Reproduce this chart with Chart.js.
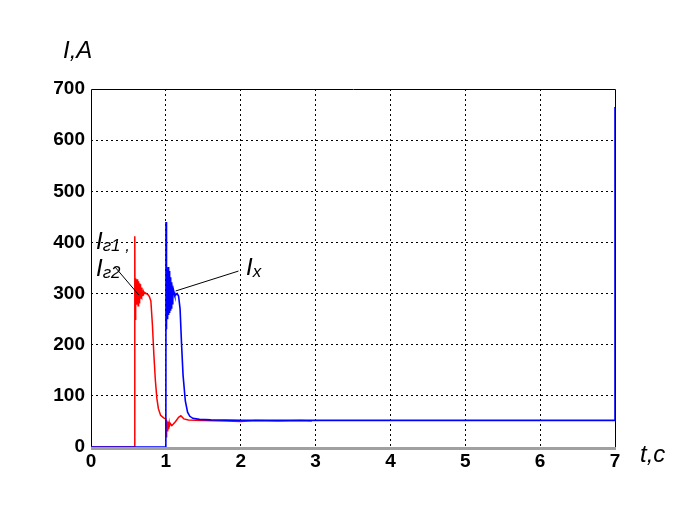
<!DOCTYPE html>
<html>
<head>
<meta charset="utf-8">
<script src="https://cdn.jsdelivr.net/npm/chart.js@4"></script>
<style>
  html, body { margin: 0; padding: 0; background: #fff; }
  #wrap { width: 685px; height: 514px; }
</style>
</head>
<body>
<div id="wrap"><canvas id="c" width="685" height="514"></canvas></div>
<script>
// Ток генератора (красный) и ток нагрузки (синий), t в секундах, I в амперах
const redT = [0, 0.58, 0.585, 0.588, 0.592, 0.595, 0.598, 0.6, 0.603, 0.606, 0.609, 0.612, 0.615, 0.618, 0.621, 0.624, 0.627, 0.63, 0.633, 0.636, 0.639, 0.642, 0.645, 0.648, 0.651, 0.654, 0.657, 0.66, 0.664, 0.668, 0.672, 0.676, 0.68, 0.685, 0.69, 0.695, 0.70, 0.71, 0.72, 0.74, 0.76, 0.78, 0.80, 0.82, 0.84, 0.86, 0.88, 0.90, 0.93, 0.97, 1.0, 1.003, 1.006, 1.01, 1.015, 1.02, 1.025, 1.03, 1.035, 1.04, 1.045, 1.05, 1.06, 1.08, 1.1, 1.13, 1.17, 1.2, 1.24, 1.3, 1.5, 1.8, 2.0, 2.2, 2.5, 2.8, 2.95];
const redI = [0, 0, 412, 250, 330, 275, 320, 282, 326, 278, 318, 285, 328, 280, 322, 288, 316, 276, 324, 290, 314, 282, 320, 292, 312, 286, 318, 290, 310, 294, 312, 292, 308, 296, 306, 297, 304, 300, 302, 300, 298, 294, 285, 240, 180, 130, 95, 75, 62, 57, 55, 20, 50, 28, 52, 32, 50, 36, 48, 38, 47, 42, 46, 42, 45, 50, 58, 61, 55, 53, 52, 51, 50, 52, 51, 52, 51];

const blueT = [0, 1.0, 1.002, 1.004, 1.007, 1.01, 1.013, 1.016, 1.019, 1.022, 1.025, 1.028, 1.031, 1.034, 1.037, 1.04, 1.043, 1.046, 1.049, 1.052, 1.055, 1.058, 1.061, 1.064, 1.067, 1.07, 1.074, 1.078, 1.082, 1.086, 1.09, 1.095, 1.1, 1.11, 1.12, 1.15, 1.17, 1.19, 1.21, 1.23, 1.26, 1.29, 1.32, 1.36, 1.45, 1.6, 2, 3, 5, 6.99, 7.0, 7.0];
const blueI = [0, 0, 440, 230, 360, 255, 350, 262, 346, 250, 340, 270, 352, 258, 338, 272, 344, 262, 330, 280, 338, 268, 326, 284, 332, 272, 322, 286, 318, 280, 314, 290, 308, 302, 296, 300, 295, 270, 200, 140, 90, 68, 60, 56, 54, 53, 52, 52, 52, 52, 52, 665];

const xTicks = [0, 1, 2, 3, 4, 5, 6, 7];
const yTicks = [0, 100, 200, 300, 400, 500, 600, 700];

// выноски в координатах данных: [t, I] -> [t, I]
const leaders = [
  { from: [0.32, 352], to: [0.64, 297] },
  { from: [1.97, 344], to: [1.13, 305] }
];

const pts = (t, v) => t.map((x, i) => ({ x, y: v[i] }));
const narrow = "'Liberation Sans Narrow', 'Liberation Sans', Arial, sans-serif";

const annot = {
  id: 'annot',
  beforeDatasetsDraw(ch) {
    const { ctx, chartArea: a } = ch;
    ctx.save();
    ctx.strokeStyle = '#000'; ctx.lineWidth = 1;
    ctx.beginPath();
    ctx.moveTo(a.left + 0.5, a.bottom); ctx.lineTo(a.left + 0.5, a.top + 0.5);
    ctx.lineTo(a.right + 0.5, a.top + 0.5); ctx.lineTo(a.right + 0.5, a.bottom);
    ctx.stroke();
    ctx.strokeStyle = '#a0a0a0'; ctx.lineWidth = 3;
    ctx.beginPath(); ctx.moveTo(a.left, a.bottom + 1.5); ctx.lineTo(a.right + 1, a.bottom + 1.5); ctx.stroke();
    ctx.restore();
  },
  afterDraw(ch) {
    const { ctx, scales: { x, y } } = ch;
    ctx.save();
    ctx.strokeStyle = '#000'; ctx.lineWidth = 1;
    leaders.forEach(l => {
      ctx.beginPath();
      ctx.moveTo(x.getPixelForValue(l.from[0]), y.getPixelForValue(l.from[1]));
      ctx.lineTo(x.getPixelForValue(l.to[0]), y.getPixelForValue(l.to[1]));
      ctx.stroke();
    });
    ctx.fillStyle = '#000';
    ctx.textBaseline = 'alphabetic';
    const sub = (main, s, px, py, size) => {
      ctx.font = `italic ${size}px ${narrow}`;
      ctx.fillText(main, px, py);
      const w = ctx.measureText(main).width;
      ctx.font = `italic ${Math.round(size * 0.72)}px ${narrow}`;
      ctx.fillText(s, px + w, py + 2);
    };
    ctx.font = `italic 24px ${narrow}`;
    ctx.fillText('I,A', 63, 58);
    ctx.fillText('t,c', 640, 462);
    sub('I', 'г1 ,', 96, 249, 24);
    sub('I', 'г2', 96, 276, 24);
    sub('I', 'x', 246, 275, 24);
    ctx.restore();
  }
};

const dotted = c => (c.tick && (c.tick.value === 0 || c.tick.value === 700 || (c.scale.axis === 'x' && c.tick.value === 7))) ? 'rgba(0,0,0,0)' : '#000';
const tickFont = { family: 'Liberation Sans, Arial', size: 19, weight: 'bold' };

new Chart(document.getElementById('c'), {
  type: 'scatter',
  data: {
    datasets: [
      { data: pts(redT, redI), order: 1, showLine: true, borderColor: '#ff0000', borderWidth: 1.5, pointRadius: 0, tension: 0 },
      { data: pts(blueT, blueI), order: 0, showLine: true, borderColor: '#0000ff', borderWidth: 1.6, pointRadius: 0, tension: 0 }
    ]
  },
  plugins: [annot],
  options: {
    responsive: false,
    animation: false,
    layout: { padding: { top: 89, right: 70, left: 0, bottom: 0 } },
    plugins: { legend: { display: false }, tooltip: { enabled: false } },
    scales: {
      x: {
        type: 'linear', min: 0, max: 7,
        afterBuildTicks: s => { s.ticks = xTicks.map(v => ({ value: v })); },
        afterFit: s => { s.height = 67; },
        border: { display: false, dash: [2, 3] },
        grid: { color: dotted, lineWidth: 1, drawTicks: false },
        ticks: { color: '#000', padding: 3, font: tickFont }
      },
      y: {
        min: 0, max: 700,
        afterBuildTicks: s => { s.ticks = yTicks.map(v => ({ value: v })); },
        afterFit: s => { s.width = 91; },
        border: { display: false, dash: [2, 3] },
        grid: { color: dotted, lineWidth: 1, drawTicks: false },
        ticks: { color: '#000', padding: 6, font: tickFont }
      }
    }
  }
});
</script>
</body>
</html>
